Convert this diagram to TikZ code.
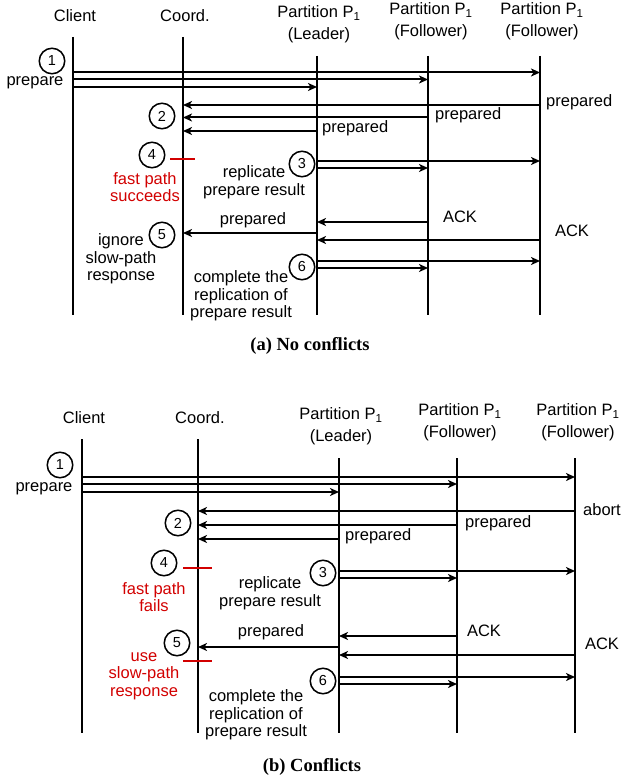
\documentclass[tikz,border=0pt]{standalone}
\usepackage{fontspec}
\setmainfont{Liberation Sans}
\newfontfamily\capfont{Liberation Serif}
\usepackage{xcolor}
\usepackage{tikz}
\usetikzlibrary{arrows.meta}
\definecolor{pathred}{RGB}{210,0,0}
\tikzset{
  life/.style={line width=2pt},
  msg/.style={line width=2pt, -{Stealth[length=9pt,width=8pt,inset=2.5pt]}},
  lbl/.style={font=\fontsize{16.5}{17.5}\selectfont, inner sep=0pt, align=center},
  num/.style={circle, draw, line width=1.5pt, minimum size=25.5pt, inner sep=0pt, font=\fontsize{14.5}{14.5}\selectfont},
  note/.style={lbl, text=pathred},
  tick/.style={line width=2pt, pathred},
  capt/.style={font=\capfont\bfseries\fontsize{18.5}{20}\selectfont, inner sep=0pt}
}
\newcommand{\msg}[3]{\draw[msg] (#1 |- 0,#3) -- (#2 |- 0,#3);}

\begin{document}
\begin{tikzpicture}[x=1pt, y=-1pt]
\useasboundingbox (0,0) rectangle (621,778);

% (a) no conflicts
\coordinate (clA) at (73,37);   \coordinate (clAe) at (73,315);
\coordinate (coA) at (183,37);  \coordinate (coAe) at (183,315);
\coordinate (ldA) at (317,56);  \coordinate (ldAe) at (317,315);
\coordinate (foA) at (428,56);  \coordinate (foAe) at (428,315);
\coordinate (fpA) at (540,56);  \coordinate (fpAe) at (540,315);
\draw[life] (clA) -- (clAe); % client
\draw[life] (coA) -- (coAe); % coordinator
\draw[life] (ldA) -- (ldAe); % leader
\draw[life] (foA) -- (foAe); % follower
\draw[life] (fpA) -- (fpAe); % follower

\node[lbl] (hclA) at (75,16) {Client};
\node[lbl] (hcoA) at (185,16) {Coord.};
\node[lbl] (hldA) at (319,24) {Partition P\textsubscript{1}\\[4pt](Leader)};
\node[lbl] (hfoA) at (431,21) {Partition P\textsubscript{1}\\[4pt](Follower)};
\node[lbl] (hfpA) at (542,21) {Partition P\textsubscript{1}\\[4pt](Follower)};

\msg{clA}{fpA}{72.5}
\msg{clA}{foA}{79.5}
\msg{clA}{ldA}{87}
\node[num] (n1A) at (52,61) {1};
\node[lbl] (prepA) at (35,83) {prepare};

\msg{fpA}{coA}{105}
\msg{foA}{coA}{117.5}
\msg{ldA}{coA}{131}
\node[num] (n2A) at (162,116) {2};
\node[lbl, anchor=west] (pfpA) at (546,102) {prepared};
\node[lbl, anchor=west] (pfoA) at (435,115) {prepared};
\node[lbl, anchor=west] (pldA) at (322,128) {prepared};

\node[num] (n4A) at (152,155) {4};
\draw[tick] (170,159) -- (195,159);
\node[note] (fastA) at (145,187) {fast path\\succeeds};

\msg{ldA}{fpA}{161}
\msg{ldA}{foA}{168}
\node[num] (n3A) at (302,164) {3};
\node[lbl] (replA) at (254,182) {replicate\\prepare result};

\msg{foA}{ldA}{222}
\msg{ldA}{coA}{233}
\msg{fpA}{ldA}{240}
\node[lbl] (ackoA) at (460,217) {ACK};
\node[lbl] (ackpA) at (572,231) {ACK};
\node[lbl] (slowA) at (253,220) {prepared};
\node[num] (n5A) at (162,235) {5};
\node[lbl] (ignA) at (121,259) {ignore\\slow-path\\response};

\msg{ldA}{fpA}{261}
\msg{ldA}{foA}{268}
\node[num] (n6A) at (302,267) {6};
\node[lbl] (compA) at (241,296) {complete the\\replication of\\prepare result};

\node[capt] (capA) at (310,346) {(a) No conflicts};

% (b) conflicts
\coordinate (clB) at (82,439);   \coordinate (clBe) at (82,733);
\coordinate (coB) at (198,439);  \coordinate (coBe) at (198,733);
\coordinate (ldB) at (339,458);  \coordinate (ldBe) at (339,733);
\coordinate (foB) at (457,458);  \coordinate (foBe) at (457,733);
\coordinate (fpB) at (575,458);  \coordinate (fpBe) at (575,733);
\draw[life] (clB) -- (clBe); % client
\draw[life] (coB) -- (coBe); % coordinator
\draw[life] (ldB) -- (ldBe); % leader
\draw[life] (foB) -- (foBe); % follower
\draw[life] (fpB) -- (fpBe); % follower

\node[lbl] (hclB) at (84,418) {Client};
\node[lbl] (hcoB) at (200,418) {Coord.};
\node[lbl] (hldB) at (341,426) {Partition P\textsubscript{1}\\[4pt](Leader)};
\node[lbl] (hfoB) at (460,422) {Partition P\textsubscript{1}\\[4pt](Follower)};
\node[lbl] (hfpB) at (578,422) {Partition P\textsubscript{1}\\[4pt](Follower)};

\msg{clB}{fpB}{477}
\msg{clB}{foB}{484}
\msg{clB}{ldB}{492}
\node[num] (n1B) at (60,465) {1};
\node[lbl] (prepB) at (44,489) {prepare};

\msg{fpB}{coB}{511}
\msg{foB}{coB}{525}
\msg{ldB}{coB}{539}
\node[num] (n2B) at (178,523) {2};
\node[lbl, anchor=west] (abB) at (583,510) {abort};
\node[lbl, anchor=west] (pfoB) at (465,523) {prepared};
\node[lbl, anchor=west] (pldB) at (345,536) {prepared};

\node[num] (n4B) at (164,563) {4};
\draw[tick] (183,568) -- (212,568);
\node[note] (fastB) at (154,597) {fast path\\fails};

\msg{ldB}{fpB}{571}
\msg{ldB}{foB}{578}
\node[num] (n3B) at (323,573) {3};
\node[lbl] (replB) at (270,593) {replicate\\prepare result};

\msg{foB}{ldB}{636}
\msg{ldB}{coB}{647}
\msg{fpB}{ldB}{655}
\node[lbl] (ackoB) at (484,631) {ACK};
\node[lbl] (ackpB) at (602,644) {ACK};
\node[lbl] (slowB) at (271,632) {prepared};
\node[num] (n5B) at (177,643) {5};
\draw[tick] (183,661) -- (212,661);
\node[note] (useB) at (144,676) {use\\slow-path\\response};

\msg{ldB}{fpB}{677}
\msg{ldB}{foB}{684}
\node[num] (n6B) at (323,681) {6};
\node[lbl] (compB) at (256,715) {complete the\\replication of\\prepare result};

\node[capt] (capB) at (312,767) {(b) Conflicts};
\end{tikzpicture}
\end{document}
